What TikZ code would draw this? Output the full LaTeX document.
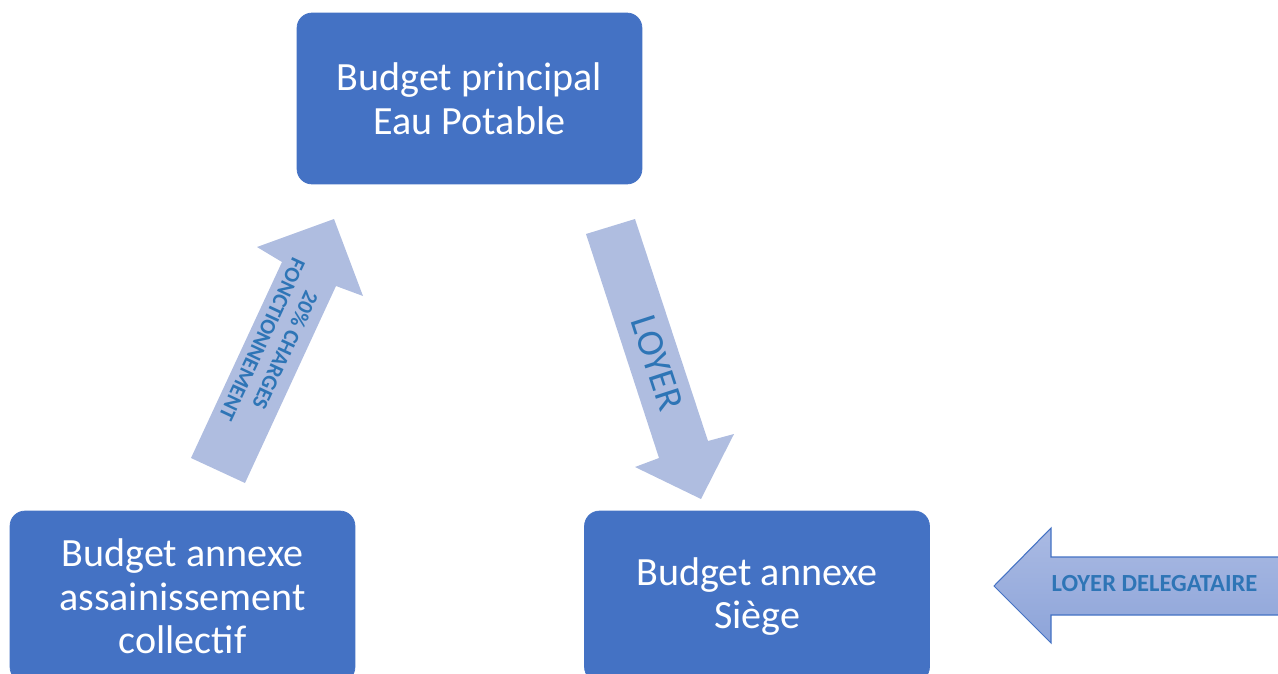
\documentclass[tikz,border=0pt]{standalone}
\usepackage{fontspec}
\setmainfont{Carlito}
\definecolor{boxblue}{HTML}{4472C4}
\definecolor{arrowfill}{HTML}{AFBDE0}
\definecolor{labelblue}{HTML}{2E75B6}
\definecolor{shadetop}{HTML}{AABAE3}
\definecolor{shadebot}{HTML}{8DA4D9}
\tikzset{
	budget/.style={fill=boxblue, draw=boxblue, rounded corners=0.3cm, minimum width=6.9cm, minimum height=3.42cm, text=white, align=center, inner sep=0pt, font=\fontsize{22.8}{24.8}\selectfont},
	flowarrow/.style={fill=arrowfill, draw=none},
	arrowlabel/.style={text=labelblue, align=center, inner sep=0pt},
}

\begin{document}
\begin{tikzpicture}[x=0.02cm, y=-0.02cm]
			%%%%% START %%%%%
			\useasboundingbox (0, 0) rectangle (1278, 673);
			\clip (0, 0) rectangle (1278, 673);
			
			\node[budget] (principal) at (469.5, 98.5) {Budget principal\\Eau Potable};
			\node[budget] (assainissement) at (182.5, 596.5) {Budget annexe\\assainissement\\collectif};
			\node[budget] (siege) at (757, 596.5) {Budget annexe\\Si\`ege};
			
			\fill[flowarrow] (191, 458) -- (282, 262) -- (257, 247) -- (334, 219) -- (363, 296) -- (336, 286) -- (245, 483) -- cycle;
			\node[arrowlabel, rotate=-115, font=\bfseries\fontsize{12.4}{14.4}\selectfont] (charges) at (274, 345) {20\% CHARGES\\FONCTIONNEMENT};
			
			\fill[flowarrow] (586, 234) -- (635, 219) -- (708, 441) -- (734, 434) -- (701, 499) -- (635, 467) -- (659, 458) -- cycle;
			\node[arrowlabel, rotate=-72, font=\fontsize{21.6}{24}\selectfont] (loyer) at (657, 363) {LOYER};
			
			\draw[line width=0.6pt, draw=boxblue, top color=shadetop, bottom color=shadebot] (994, 586) -- (1051, 528) -- (1051, 557) -- (1290, 557) -- (1290, 615) -- (1051, 615) -- (1051, 643) -- cycle;
			\node[arrowlabel, font=\bfseries\fontsize{14}{16}\selectfont] (delegataire) at (1154.5, 584) {LOYER DELEGATAIRE};
			
			%%%%% END %%%%%
\end{tikzpicture}
\end{document}
